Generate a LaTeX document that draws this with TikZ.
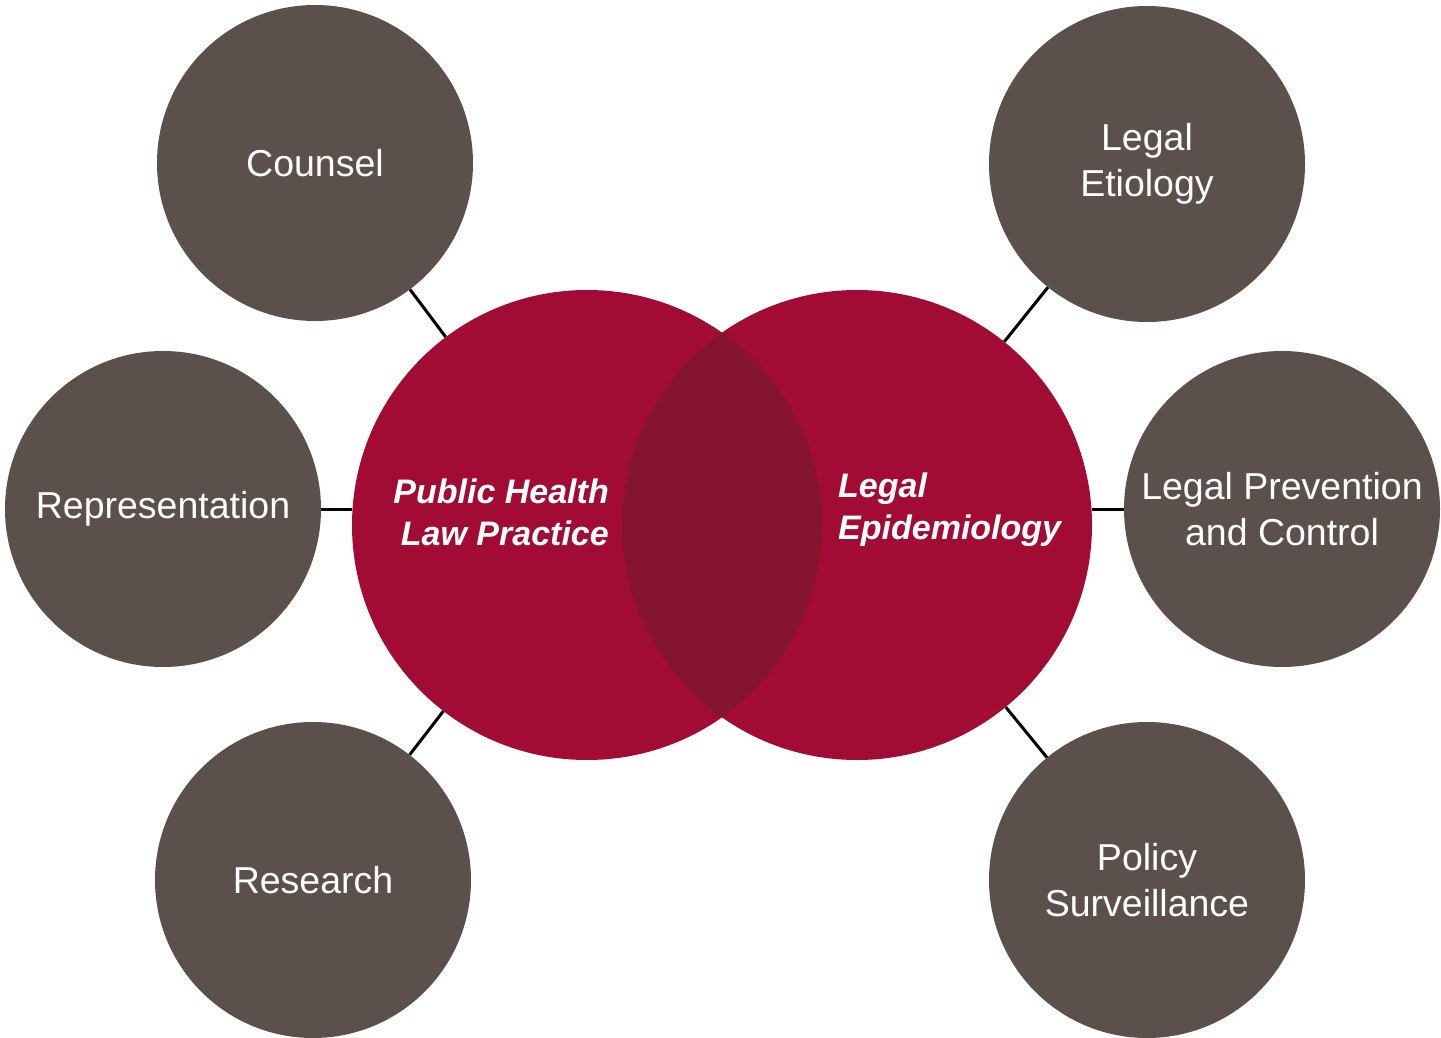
\documentclass[tikz,border=0pt]{standalone}
\usepackage{fontspec}
\setmainfont{Liberation Sans}
\definecolor{greyc}{HTML}{5C504D}
\definecolor{redc}{HTML}{A20B34}
\definecolor{overlapc}{HTML}{85152F}
\begin{document}
\begin{tikzpicture}[x=1pt,y=-1pt,
  outer/.style={circle,fill=greyc,inner sep=0pt,minimum size=316pt,text=white,align=center,
    font=\fontsize{37.5}{46}\selectfont},
  core/.style={circle,inner sep=0pt,minimum size=470pt},
  redlabel/.style={text=white,font=\fontsize{34}{42}\selectfont\bfseries\itshape,inner sep=0pt},
  link/.style={draw=black,line width=3pt}]
\useasboundingbox (0,0) rectangle (1441,1038);
% core circles
\node[core,fill=redc] (left) at (587,525) {};
\node[core,fill=redc] (right) at (857,525) {};
\begin{scope}
  \clip (587,525) circle (235pt);
  \fill[overlapc] (857,525) circle (235pt);
\end{scope}
\node[redlabel,align=right,anchor=east] (lt) at (609,512) {Public Health\\Law Practice};
\node[redlabel,align=left,anchor=west] (rt) at (838,510) {Legal\\Epidemiology};
% outer circles
\node[outer] (counsel) at (315,163) {Counsel};
\node[outer] (rep) at (163,509) {Representation};
\node[outer] (research) at (313,880) {Research};
\node[outer] (etio) at (1147,164) {Legal\\Etiology};
\node[outer] (prev) at (1282,509) {Legal Prevention\\and Control};
\node[outer] (policy) at (1147,880) {Policy\\Surveillance};
% connectors
\draw[link] (counsel) -- (left);
\draw[link] (rep.east) -- (rep.east -| left.west);
\draw[link] (research) -- (left);
\draw[link] (etio) -- (right);
\draw[link] (prev.west) -- (prev.west -| right.east);
\draw[link] (policy) -- (right);
\end{tikzpicture}
\end{document}
